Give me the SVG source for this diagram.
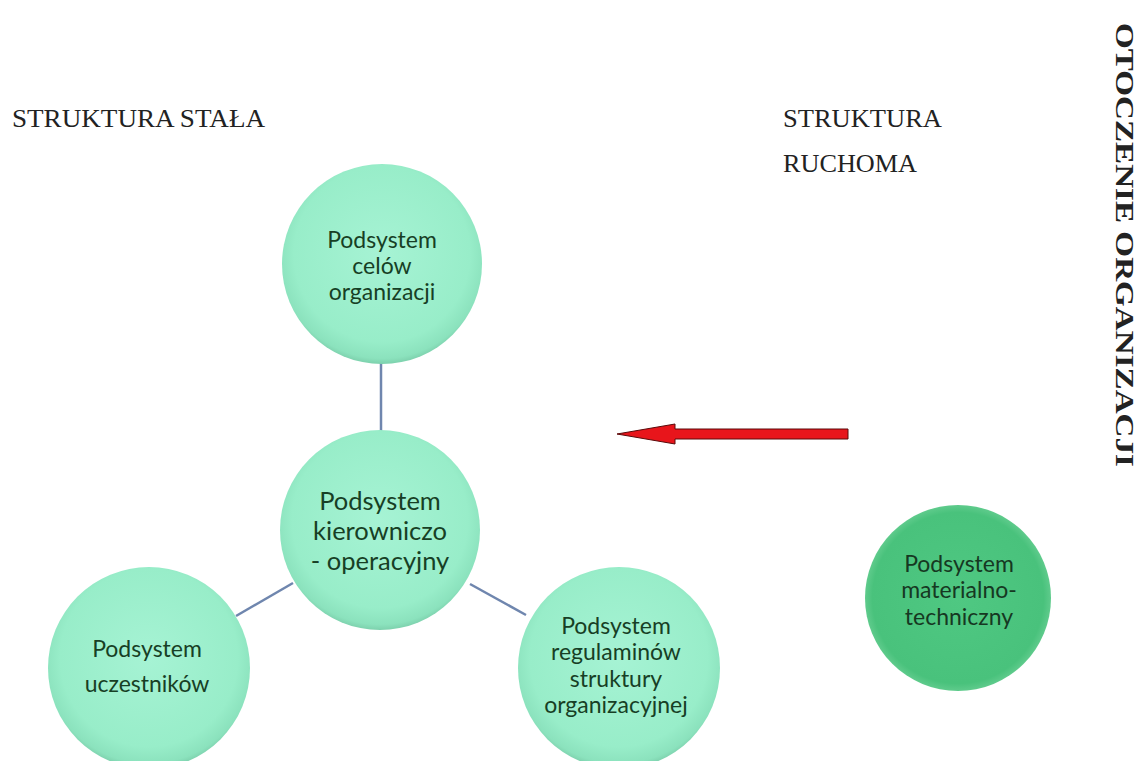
<svg xmlns="http://www.w3.org/2000/svg" width="1139" height="761" viewBox="0 0 1139 761">
<defs>
<radialGradient id="mint" cx="50%" cy="45%" r="55%">
<stop offset="0%" stop-color="#a6f3d4"/>
<stop offset="80%" stop-color="#98edc9"/>
<stop offset="95%" stop-color="#8be2bd"/>
<stop offset="100%" stop-color="#7dd1ad"/>
</radialGradient>
<radialGradient id="green" cx="50%" cy="50%" r="50%">
<stop offset="0%" stop-color="#4fc882"/>
<stop offset="92%" stop-color="#49c27c"/>
<stop offset="100%" stop-color="#5fcb8c"/>
</radialGradient>
</defs>
<style>
.mint{fill:url(#mint);}
.green{fill:url(#green);}
.lbl{font-family:Lato,"Open Sans","Liberation Sans",sans-serif;fill:#173f25;text-anchor:middle;}
.ser{font-family:"Liberation Serif","Times New Roman",serif;font-size:25px;fill:#222;}
.conn{stroke:#6f86ae;stroke-width:2.5;fill:none;}
</style>
<rect width="1139" height="761" fill="#ffffff"/>

<g id="labels">
<text class="ser" x="12" y="127" textLength="253" lengthAdjust="spacingAndGlyphs">STRUKTURA STAŁA</text>
<text class="ser" x="783" y="127" textLength="159" lengthAdjust="spacingAndGlyphs">STRUKTURA</text>
<text class="ser" x="783" y="172" textLength="134" lengthAdjust="spacingAndGlyphs">RUCHOMA</text>
<text class="ser" transform="translate(1116,23) rotate(90)" x="0" y="0" font-weight="bold" font-size="29" textLength="444" lengthAdjust="spacingAndGlyphs">OTOCZENIE ORGANIZACJI</text>
</g>

<g id="connectors">
<line class="conn" x1="381" y1="363" x2="381" y2="431"/>
<line class="conn" x1="293" y1="583" x2="236" y2="616"/>
<line class="conn" x1="470" y1="584" x2="526" y2="615"/>
<polygon points="848,429 675,429 675,424 617,434 675,444 675,439 848,439" fill="#e8151b" stroke="#5a0a0a" stroke-width="1"/>
</g>

<g id="node-cele">
<circle class="mint" cx="382" cy="264" r="100"/>
<text class="lbl" font-size="23"><tspan x="382" y="248">Podsystem</tspan><tspan x="382" y="274">celów</tspan><tspan x="382" y="300">organizacji</tspan></text>
</g>

<g id="node-kierowniczy">
<circle class="mint" cx="380" cy="530" r="100"/>
<text class="lbl" font-size="25.5"><tspan x="380" y="510">Podsystem</tspan><tspan x="380" y="540">kierowniczo</tspan><tspan x="380" y="570">- operacyjny</tspan></text>
</g>

<g id="node-uczestnicy">
<circle class="mint" cx="149" cy="668" r="101"/>
<text class="lbl" font-size="23"><tspan x="147" y="657">Podsystem</tspan><tspan x="147" y="692">uczestników</tspan></text>
</g>

<g id="node-regulaminy">
<circle class="mint" cx="619" cy="668" r="101"/>
<text class="lbl" font-size="23"><tspan x="616" y="634">Podsystem</tspan><tspan x="616" y="660">regulaminów</tspan><tspan x="616" y="687">struktury</tspan><tspan x="616" y="713">organizacyjnej</tspan></text>
</g>

<g id="node-materialny">
<circle class="green" cx="958" cy="598" r="93"/>
<text class="lbl" font-size="23" style="fill:#163822"><tspan x="959" y="572">Podsystem</tspan><tspan x="959" y="598">materialno-</tspan><tspan x="959" y="625">techniczny</tspan></text>
</g>
</svg>
